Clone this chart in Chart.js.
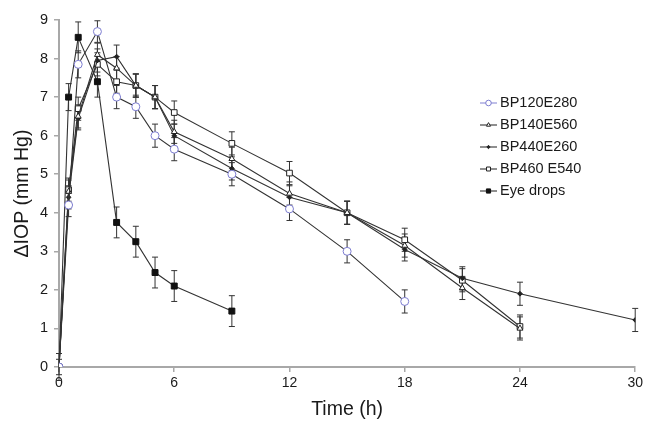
<!DOCTYPE html>
<html>
<head>
<meta charset="utf-8">
<script src="https://cdn.jsdelivr.net/npm/chart.js@4"></script>
<style>
  html, body { margin: 0; padding: 0; background: #fff; }
  #wrap { width: 646px; height: 421px; }
</style>
</head>
<body>
<div id="wrap"><canvas id="iopChart" width="646" height="421"></canvas></div>
<script>
// sampling times in hours
const times = [0, 0.5, 1, 2, 3, 4, 5, 6, 9, 12, 15, 18, 21, 24, 30];

// mean IOP reduction (mm Hg), null where not measured
const bp120e280 = [0, 4.2, 7.85, 8.7, 7.0, 6.75, 6.0, 5.65, 5.0, 4.1, 3.0, 1.7, null, null, null];
const bp140e560 = [0, 4.55, 6.5, 8.1, 7.75, 7.3, 7.0, 6.1, 5.4, 4.5, 4.0, 3.15, 2.05, 1.0, null];
const bp440e260 = [0, 4.4, 6.45, 7.95, 8.05, 7.3, 7.0, 6.0, 5.15, 4.4, 4.0, 3.05, 2.3, 1.9, 1.22];
const bp460e540 = [0, 4.6, 6.7, 7.85, 7.4, 7.3, 7.0, 6.6, 5.8, 5.03, 4.0, 3.3, 2.25, 1.05, null];
const eyeDrops  = [0, 7.0, 8.55, 7.4, 3.75, 3.25, 2.45, 2.1, 1.45, null, null, null, null, null, null];

// standard deviations
const bp120Err = [0, 0.3, 0.35, 0.28, 0.3, 0.3, 0.3, 0.3, 0.3, 0.3, 0.3, 0.3, 0, 0, 0];
const bp140Err = [0.2, 0.3, 0.3, 0.3, 0.3, 0.3, 0.3, 0.3, 0.3, 0.3, 0.3, 0.3, 0.3, 0.3, 0];
const bp440Err = [0, 0.3, 0.3, 0.3, 0.3, 0.3, 0.3, 0.3, 0.3, 0.3, 0.3, 0.3, 0.3, 0.3, 0.3];
const bp460Err = [0, 0.3, 0.3, 0.3, 0.3, 0.3, 0.3, 0.3, 0.3, 0.3, 0.3, 0.3, 0.3, 0.3, 0];
const eyeErr   = [0.35, 0.35, 0.4, 0.4, 0.4, 0.4, 0.4, 0.4, 0.4, 0, 0, 0, 0, 0, 0];

const xTicks = [0, 6, 12, 18, 24, 30];
const yTicks = [0, 1, 2, 3, 4, 5, 6, 7, 8, 9];

function toPoints(values, errs) {
    const pts = [];
    values.forEach((v, i) => {
        if (v !== null) pts.push({ x: times[i], y: v, err: errs[i] });
    });
    return pts;
}

const lineColor = '#333';
const fontFamily = '"Liberation Sans", Arial, sans-serif';

function series(label, values, errs, style) {
    return Object.assign({
        label,
        data: toPoints(values, errs),
        borderColor: lineColor,
        borderWidth: 1.1,
        pointBorderColor: '#222',
        pointBorderWidth: 1,
        pointBackgroundColor: '#fff',
        tension: 0,
    }, style);
}

const datasets = [
    series('BP120E280', bp120e280, bp120Err, {
        pointStyle: 'circle', pointRadius: 4,
        pointBorderColor: '#7c7cd0', legendLine: '#8a8ad6'
    }),
    series('BP140E560', bp140e560, bp140Err, { pointStyle: 'triangle', pointRadius: 3.4 }),
    series('BP440E260', bp440e260, bp440Err, {
        pointStyle: 'rectRot', pointRadius: 2.4, pointBackgroundColor: '#222'
    }),
    series('BP460 E540', bp460e540, bp460Err, { pointStyle: 'rect', pointRadius: 4 }),
    series('Eye drops', eyeDrops, eyeErr, {
        pointStyle: 'rect', pointRadius: 4.2, pointBackgroundColor: '#111', pointBorderColor: '#111'
    }),
];

// vertical error bars with small caps, placed through the y scale
const errorBars = {
    id: 'errorBars',
    beforeDatasetsDraw(chart) {
        const ctx = chart.ctx;
        const yScale = chart.scales.y;
        ctx.save();
        ctx.strokeStyle = '#333';
        ctx.lineWidth = 1;
        chart.data.datasets.forEach((ds, di) => {
            const meta = chart.getDatasetMeta(di);
            meta.data.forEach((pt, i) => {
                const d = ds.data[i];
                if (!d.err) return;
                const top = yScale.getPixelForValue(d.y + d.err);
                const bot = yScale.getPixelForValue(d.y - d.err);
                ctx.beginPath();
                ctx.moveTo(pt.x, top);
                ctx.lineTo(pt.x, bot);
                ctx.moveTo(pt.x - 3, top);
                ctx.lineTo(pt.x + 3, top);
                ctx.moveTo(pt.x - 3, bot);
                ctx.lineTo(pt.x + 3, bot);
                ctx.stroke();
            });
        });
        ctx.restore();
    }
};

// legend drawn inside the plot, right side
const innerLegend = {
    id: 'innerLegend',
    afterDraw(chart) {
        const ctx = chart.ctx;
        const x0 = 480, x1 = 497, tx = 500;
        let y = 103;
        ctx.save();
        ctx.font = '14.5px ' + fontFamily;
        ctx.textBaseline = 'middle';
        ctx.textAlign = 'left';
        chart.data.datasets.forEach(ds => {
            ctx.strokeStyle = ds.legendLine || ds.borderColor;
            ctx.lineWidth = 1.1;
            ctx.beginPath();
            ctx.moveTo(x0, y);
            ctx.lineTo(x1, y);
            ctx.stroke();
            ctx.fillStyle = ds.pointBackgroundColor;
            ctx.strokeStyle = ds.pointBorderColor;
            ctx.lineWidth = 1;
            Chart.helpers.drawPoint(ctx, {
                pointStyle: ds.pointStyle,
                radius: ds.pointRadius * 0.7,
                rotation: 0,
                borderWidth: 1
            }, (x0 + x1) / 2, y);
            ctx.fillStyle = '#1a1a1a';
            ctx.fillText(ds.label, tx, y);
            y += 22;
        });
        ctx.restore();
    }
};

const config = {
    type: 'line',
    data: { datasets },
    options: {
        responsive: false,
        animation: false,
        layout: { padding: { left: 0, right: 9, top: 20, bottom: 0 } },
        plugins: {
            legend: { display: false },
            tooltip: { enabled: false },
        },
        scales: {
            x: {
                type: 'linear',
                min: 0,
                max: 30,
                afterFit: (scale) => { scale.height = 54; },
                afterBuildTicks: (scale) => { scale.ticks = xTicks.map(v => ({ value: v })); },
                grid: { drawOnChartArea: false, drawTicks: true, tickLength: 5, color: '#a8a8a8', lineWidth: 1.5 },
                border: { color: '#a8a8a8', width: 2 },
                ticks: { color: '#1a1a1a', padding: 3, font: { family: fontFamily, size: 14 } },
                title: {
                    display: true,
                    text: 'Time (h)',
                    color: '#1a1a1a',
                    padding: { top: 0, bottom: 0 },
                    font: { family: fontFamily, size: 19.5 }
                }
            },
            y: {
                min: 0,
                max: 9,
                afterFit: (scale) => { scale.width = 59; },
                afterBuildTicks: (scale) => { scale.ticks = yTicks.map(v => ({ value: v })); },
                grid: { drawOnChartArea: false, drawTicks: true, tickLength: 5, color: '#a8a8a8', lineWidth: 1.5 },
                border: { color: '#a8a8a8', width: 2 },
                ticks: { color: '#1a1a1a', padding: 6, font: { family: fontFamily, size: 14.5 } },
                title: {
                    display: true,
                    text: 'ΔIOP (mm Hg)',
                    color: '#1a1a1a',
                    padding: { top: 11, bottom: 0 },
                    font: { family: fontFamily, size: 19.5 }
                }
            }
        }
    },
    plugins: [errorBars, innerLegend]
};

const iopChart = new Chart(document.getElementById('iopChart'), config);
</script>
</body>
</html>
